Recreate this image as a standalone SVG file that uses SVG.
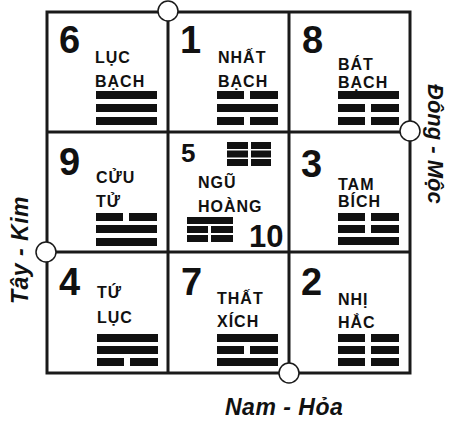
<svg xmlns="http://www.w3.org/2000/svg" width="449" height="421" viewBox="0 0 449 421">
<style>
.num{font-family:"Liberation Sans",Arial,sans-serif;font-weight:bold;font-size:38px;fill:#111}
.lbl{font-family:"Liberation Sans",Arial,sans-serif;font-weight:bold;font-size:16px;letter-spacing:1px;fill:#111}
.side{font-family:"Liberation Sans",Arial,sans-serif;font-weight:bold;font-style:italic;font-size:22px;fill:#111}
.grid{fill:none;stroke:#1a1a1a;stroke-width:3}
.dot{fill:#fff;stroke:#1a1a1a;stroke-width:1.5}
.bar{fill:#111}
</style>
<defs>
<rect id="yang" class="bar" width="61" height="8"/>
<g id="yin"><rect class="bar" width="27" height="8"/><rect class="bar" x="33" width="28" height="8"/></g>
</defs>
<rect width="449" height="421" fill="#fff"/>
<g id="grid" class="grid">
<rect x="47" y="12" width="363" height="361"/>
<line x1="168" y1="12" x2="168" y2="373"/>
<line x1="289" y1="12" x2="289" y2="373"/>
<line x1="47" y1="132" x2="410" y2="132"/>
<line x1="47" y1="252" x2="410" y2="252"/>
</g>
<g id="cell6">
<text class="num" x="59" y="53">6</text>
<text class="lbl" x="95" y="63">LỤC</text>
<text class="lbl" x="95" y="87">BẠCH</text>
<use href="#yang" x="96" y="91"/><use href="#yang" x="96" y="104"/><use href="#yang" x="96" y="117"/>
</g>
<g id="cell1">
<text class="num" x="180" y="53">1</text>
<text class="lbl" x="218" y="63">NHẤT</text>
<text class="lbl" x="218" y="87">BẠCH</text>
<use href="#yin" x="217" y="91"/><use href="#yang" x="217" y="104"/><use href="#yin" x="217" y="117"/>
</g>
<g id="cell8">
<text class="num" x="302" y="53">8</text>
<text class="lbl" x="338" y="70">BÁT</text>
<text class="lbl" x="338" y="88">BẠCH</text>
<use href="#yang" x="338" y="91"/><use href="#yin" x="338" y="104"/><use href="#yin" x="338" y="117"/>
</g>
<g id="cell9">
<text class="num" x="59" y="175">9</text>
<text class="lbl" x="96" y="183">CỬU</text>
<text class="lbl" x="96" y="207">TỬ</text>
<use href="#yin" x="96" y="213"/><use href="#yang" x="96" y="225"/><use href="#yang" x="96" y="238"/>
</g>
<g id="cell5">
<text class="num" x="181" y="162" style="font-size:26px">5</text>
<text class="num" x="249" y="247" style="font-size:31px">10</text>
<text class="lbl" x="198" y="188">NGŨ</text>
<text class="lbl" x="198" y="212">HOÀNG</text>
<g class="bar">
<rect x="227" y="142" width="21" height="7"/><rect x="251" y="142" width="20" height="7"/>
<rect x="227" y="150.5" width="21" height="7"/><rect x="251" y="150.5" width="20" height="7"/>
<rect x="227" y="159" width="21" height="7"/><rect x="251" y="159" width="20" height="7"/>
<rect x="187" y="217" width="46" height="7"/>
<rect x="187" y="226" width="21" height="7"/><rect x="211" y="226" width="22" height="7"/>
<rect x="187" y="235" width="21" height="7"/><rect x="211" y="235" width="22" height="7"/>
</g>
</g>
<g id="cell3">
<text class="num" x="301" y="177">3</text>
<text class="lbl" x="338" y="190">TAM</text>
<text class="lbl" x="338" y="207">BÍCH</text>
<use href="#yin" x="338" y="213"/><use href="#yin" x="338" y="225"/><use href="#yang" x="338" y="237"/>
</g>
<g id="cell4">
<text class="num" x="59" y="295">4</text>
<text class="lbl" x="97" y="298">TỨ</text>
<text class="lbl" x="97" y="323">LỤC</text>
<use href="#yang" x="97" y="334"/><use href="#yang" x="97" y="346"/><use href="#yin" x="97" y="358"/>
</g>
<g id="cell7">
<text class="num" x="181" y="295">7</text>
<text class="lbl" x="217" y="304">THẤT</text>
<text class="lbl" x="217" y="327">XÍCH</text>
<use href="#yang" x="217" y="334"/><use href="#yin" x="217" y="346"/><use href="#yang" x="217" y="358"/>
</g>
<g id="cell2">
<text class="num" x="301" y="295">2</text>
<text class="lbl" x="338" y="305">NHỊ</text>
<text class="lbl" x="338" y="328">HẮC</text>
<use href="#yin" x="338" y="334"/><use href="#yin" x="338" y="346"/><use href="#yin" x="338" y="358"/>
</g>
<g id="markers">
<circle class="dot" cx="168" cy="11" r="10"/>
<circle class="dot" cx="410" cy="131" r="10"/>
<circle class="dot" cx="46" cy="252" r="10"/>
<circle class="dot" cx="289" cy="373" r="10"/>
</g>
<g id="labels">
<text class="side" transform="translate(428,84) rotate(90)">Đông - Mộc</text>
<text class="side" transform="translate(28,304) rotate(-90)" style="font-size:23px;letter-spacing:0.5px">Tây - Kim</text>
<text class="side" x="225" y="415" style="font-size:23px;letter-spacing:0.5px">Nam - Hỏa</text>
</g>
</svg>
